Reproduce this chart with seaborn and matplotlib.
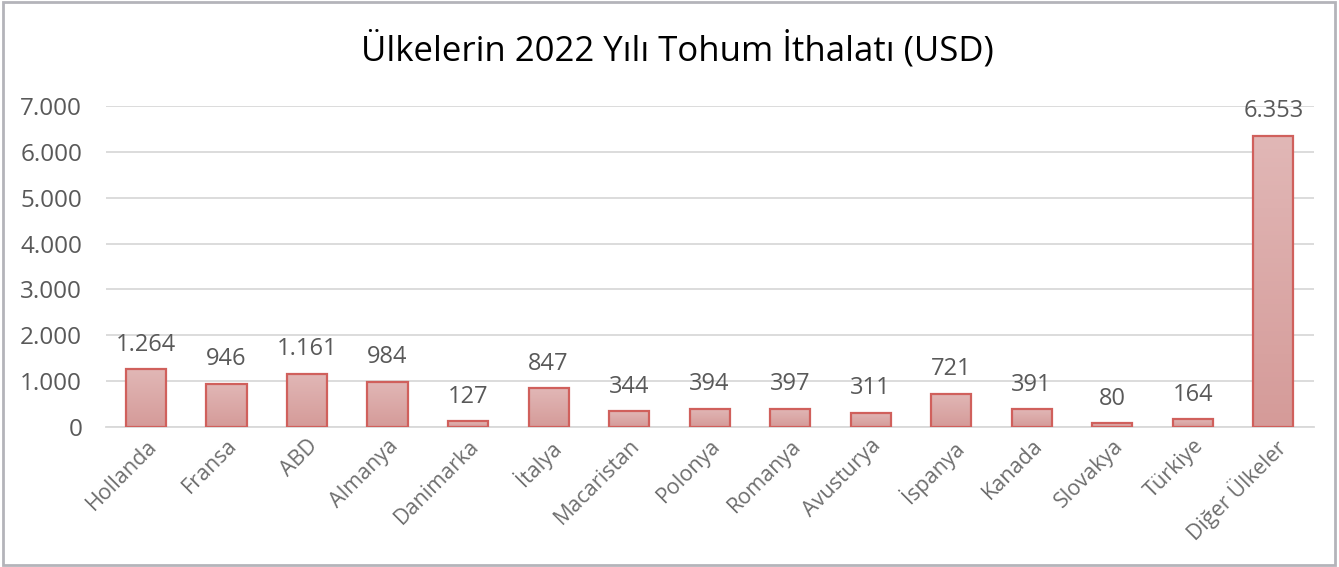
import matplotlib
matplotlib.use("Agg")
import matplotlib.pyplot as plt
from matplotlib.patches import Rectangle
from matplotlib.colors import LinearSegmentedColormap
import seaborn as sns
import numpy as np
import pandas as pd

# data
countries = ["Hollanda", "Fransa", "ABD", "Almanya", "Danimarka", "İtalya",
             "Macaristan", "Polonya", "Romanya", "Avusturya", "İspanya",
             "Kanada", "Slovakya", "Türkiye", "Diğer Ülkeler"]
imports = [1264, 946, 1161, 984, 127, 847, 344, 394, 397, 311, 721, 391, 80, 164, 6353]
y_ticks = [0, 1000, 2000, 3000, 4000, 5000, 6000, 7000]

df = pd.DataFrame({"country": countries, "value": imports})

sns.set_theme(style="white")
plt.rcParams["font.family"] = ["Open Sans", "DejaVu Sans"]

text_grey = "#595959"
edge_red = "#D0605C"

fig = plt.figure(figsize=(13.39, 5.67), dpi=100)
ax = fig.add_axes([0.079, 0.247, 0.902, 0.566])

sns.barplot(data=df, x="country", y="value", ax=ax, width=0.5,
            color="#DDAAAA", edgecolor=edge_red, linewidth=1.6,
            saturation=1, zorder=2)

# vertical gradient inside each bar
grad = LinearSegmentedColormap.from_list("g", ["#D59B99", "#E1B7B6"])
for p in ax.patches:
    x0, y0 = p.get_x(), p.get_y()
    w, h = p.get_width(), p.get_height()
    im = ax.imshow(np.linspace(0, 1, 64).reshape(-1, 1), cmap=grad, aspect="auto",
                   origin="lower", extent=(x0, x0 + w, y0, y0 + h), zorder=2.5)
    im.set_clip_path(p)
    p.set_facecolor("none")
    p.set_zorder(3)

ax.set_xlim(-0.5, len(countries) - 0.5)
ax.set_ylim(0, 7000)
ax.set_yticks(y_ticks)
ax.set_yticklabels([f"{v:,}".replace(",", ".") for v in y_ticks])
ax.grid(axis="y", color="#D9D9D9", linewidth=1.3, zorder=0)
ax.set_axisbelow(True)
for s in ["top", "right", "left"]:
    ax.spines[s].set_visible(False)
ax.spines["bottom"].set_color("#D9D9D9")
ax.spines["bottom"].set_linewidth(1.3)

ax.set_xlabel("")
ax.set_ylabel("")
ax.tick_params(axis="y", length=0, labelsize=17.5, labelcolor=text_grey, pad=17)
ax.tick_params(axis="x", length=0, labelsize=15.5, labelcolor="#6E6E6E", pad=6)
plt.setp(ax.get_xticklabels(), rotation=45, ha="right", rotation_mode="anchor")

for i, v in enumerate(imports):
    ax.annotate(f"{v:,}".replace(",", "."), (i, v), xytext=(0, 9),
                textcoords="offset points", ha="center", va="bottom",
                fontsize=17, color=text_grey)

fig.text(0.506, 0.912, "Ülkelerin 2022 Yılı Tohum İthalatı (USD)",
         ha="center", va="center", fontsize=25, color="#000000")

fig.patches.append(Rectangle((0.002, 0.003), 0.995, 0.994, transform=fig.transFigure,
                             fill=False, edgecolor="#B4B4BA", linewidth=2))

fig.savefig("out.png", dpi=100)
plt.close(fig)
